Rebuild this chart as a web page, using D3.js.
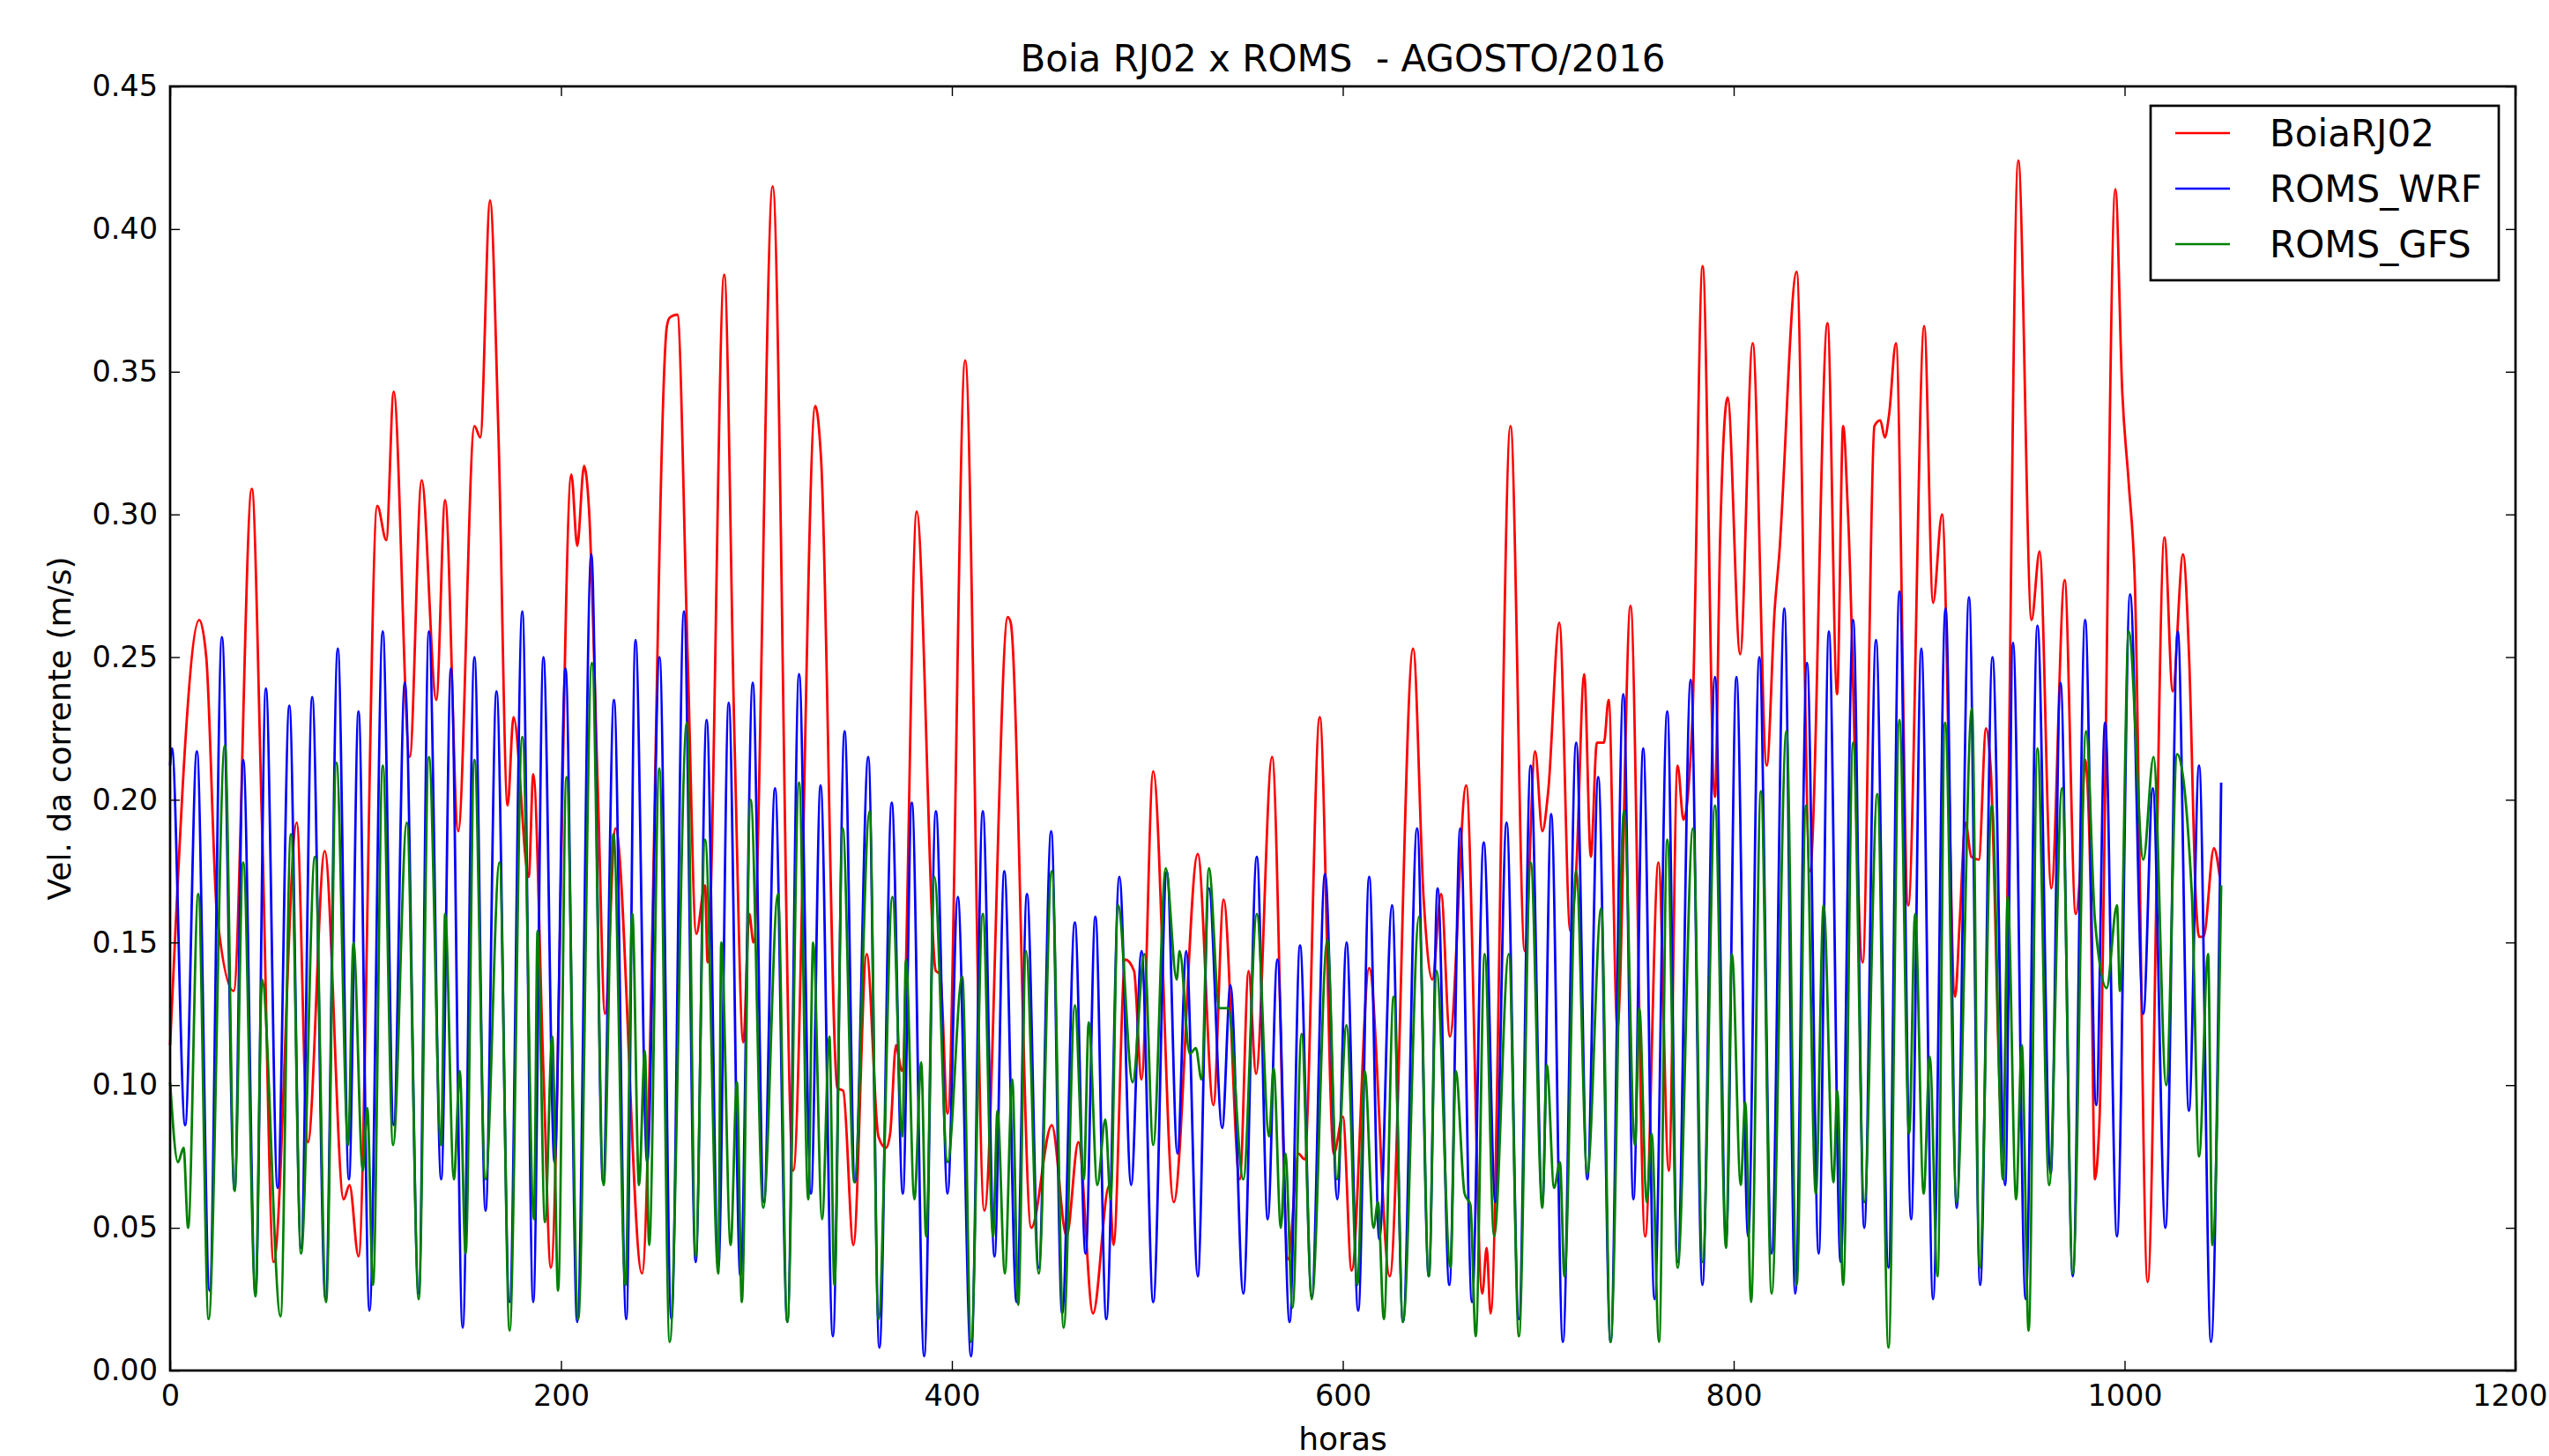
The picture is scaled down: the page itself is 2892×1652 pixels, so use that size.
<!DOCTYPE html>
<html>
<head>
<meta charset="utf-8">
<script src="https://cdn.jsdelivr.net/npm/d3@7"></script>
<style>
  body { margin: 0; background: #fff; }
  svg { display: block; font-family: "DejaVu Sans", sans-serif; }
  .tick text { fill: #000; }
</style>
</head>
<body>
<svg width="2892" height="1652"></svg>
<script>
// valores: [hora, velocidade m/s]
const boia = [[0,0.114],[14.9,0.263],[18.5,0.25],[24,0.16],[32.5,0.133],[41.8,0.309],[47,0.192],[53,0.038],[64.8,0.192],[70.5,0.08],[79.1,0.182],[88.8,0.06],[91.8,0.065],[96.4,0.04],[106,0.303],[110.6,0.291],[114.4,0.343],[122.6,0.215],[128.7,0.312],[136.2,0.235],[140.7,0.305],[147.4,0.189],[155.7,0.331],[158.7,0.327],[163.7,0.41],[168,0.328],[172.7,0.198],[175.7,0.229],[183.5,0.173],[185.8,0.209],[191,0.105],[194.8,0.036],[205.3,0.314],[208.3,0.289],[211.8,0.317],[214.3,0.302],[219,0.2],[222.5,0.125],[227.9,0.19],[241.4,0.034],[254.2,0.366],[255.7,0.369],[259.5,0.37],[264.8,0.25],[269.2,0.153],[273.7,0.17],[275,0.143],[283.5,0.384],[288.8,0.22],[293.3,0.115],[296.3,0.16],[298.5,0.15],[308.3,0.415],[318.8,0.07],[330.1,0.338],[333.1,0.319],[341.4,0.099],[344.4,0.098],[349.6,0.044],[356.4,0.146],[362.4,0.082],[366.2,0.078],[368.4,0.083],[371.4,0.114],[374.4,0.105],[382,0.301],[391.8,0.14],[394,0.139],[397.8,0.09],[406.8,0.354],[416.6,0.056],[428.6,0.264],[430.1,0.262],[440.6,0.05],[451.1,0.086],[458.7,0.047],[464.7,0.08],[472.2,0.02],[480.5,0.065],[482.7,0.044],[488.7,0.144],[493.2,0.14],[497,0.102],[503,0.21],[513.5,0.059],[525.8,0.181],[533.8,0.093],[539,0.165],[547.3,0.067],[551.8,0.14],[555.6,0.104],[563.8,0.215],[572.1,0.039],[577.3,0.076],[580.4,0.074],[588.2,0.229],[595.4,0.076],[600,0.089],[604.5,0.035],[613.5,0.141],[624,0.033],[636,0.253],[641.3,0.166],[645.8,0.137],[650.3,0.167],[654.8,0.117],[663.1,0.205],[671.4,0.027],[673.6,0.043],[675.6,0.02],[685.8,0.331],[693.1,0.147],[698.4,0.217],[702.1,0.189],[705.1,0.203],[710.8,0.262],[716.4,0.154],[719.4,0.175],[723.5,0.244],[726.9,0.18],[730,0.22],[733.6,0.22],[736,0.235],[740.5,0.12],[747.2,0.268],[754.7,0.047],[761.5,0.178],[766.8,0.07],[771.3,0.212],[774.3,0.193],[778.8,0.227],[784.1,0.387],[790.4,0.201],[793.1,0.293],[796.9,0.341],[803.3,0.251],[809.7,0.36],[816.9,0.212],[821,0.267],[823.2,0.285],[832.2,0.385],[839,0.175],[848,0.367],[852.9,0.237],[856,0.331],[858.5,0.3],[866,0.143],[872,0.331],[875,0.333],[877.3,0.327],[879.5,0.335],[883,0.36],[889.3,0.163],[897.5,0.366],[902,0.269],[906.6,0.3],[913.3,0.131],[915.6,0.157],[918.6,0.192],[921.6,0.18],[925.4,0.179],[929.1,0.225],[931.4,0.212],[937.4,0.085],[945.6,0.424],[952.4,0.263],[956.5,0.287],[962.5,0.169],[969.3,0.277],[975,0.16],[977.3,0.175],[979.8,0.214],[982.5,0.172],[984.8,0.067],[987,0.085],[995.3,0.414],[998.8,0.343],[1002.1,0.311],[1005.1,0.279],[1011.8,0.031],[1020.4,0.292],[1024.6,0.238],[1029.9,0.286],[1033,0.25],[1036.6,0.163],[1038.1,0.152],[1040.4,0.152],[1045.7,0.183],[1048.7,0.173]];

const romsWrf = [[0,0.212],[0.9,0.218],[7.7,0.086],[13.7,0.217],[20.2,0.028],[26.5,0.257],[33,0.063],[37.4,0.214],[43.7,0.027],[49,0.239],[55,0.064],[61,0.233],[67,0.043],[72.7,0.236],[79.5,0.025],[85.8,0.253],[91.5,0.067],[96.4,0.231],[102,0.021],[108.8,0.259],[114.4,0.086],[120.1,0.241],[127.2,0.027],[132.4,0.259],[138.7,0.067],[143.7,0.246],[149.7,0.015],[155.7,0.25],[161.4,0.056],[167,0.238],[173.7,0.024],[180.2,0.266],[185.8,0.024],[191,0.25],[196.7,0.073],[202.3,0.246],[208.3,0.017],[215.5,0.286],[221.5,0.066],[227.1,0.235],[233.4,0.018],[238.1,0.256],[244.1,0.073],[250.4,0.25],[256.5,0.018],[262.9,0.266],[268.9,0.038],[274.5,0.228],[280.5,0.036],[285.8,0.234],[291.8,0.033],[298.1,0.241],[303.8,0.059],[309.5,0.204],[315.8,0.017],[321.8,0.244],[327.9,0.062],[332.8,0.205],[339.1,0.012],[345.1,0.224],[350.4,0.066],[357.2,0.215],[362.9,0.008],[369.2,0.199],[374.9,0.062],[379.5,0.199],[385.8,0.005],[391.8,0.196],[397.8,0.062],[403,0.166],[409.8,0.005],[415.8,0.196],[421.8,0.04],[426.8,0.175],[433.1,0.024],[438.4,0.167],[444.4,0.036],[450.8,0.189],[456.4,0.02],[462.9,0.157],[468.4,0.041],[473.4,0.159],[479,0.018],[485.7,0.173],[491.7,0.065],[497,0.147],[503,0.024],[510,0.175],[515.4,0.076],[519.9,0.147],[525.8,0.033],[531.5,0.169],[538.3,0.085],[542.5,0.135],[549.1,0.027],[556,0.18],[561.6,0.053],[566.5,0.144],[572.8,0.017],[578.1,0.149],[584.1,0.026],[590.9,0.174],[597.2,0.06],[601.9,0.15],[607.9,0.021],[613.5,0.173],[618.7,0.046],[625.2,0.163],[630.8,0.017],[638,0.19],[644,0.033],[648.5,0.169],[654.5,0.03],[660.1,0.19],[666.1,0.024],[672.1,0.185],[678.1,0.059],[683.8,0.192],[690.1,0.018],[696.1,0.212],[702.1,0.059],[706.6,0.195],[712.6,0.01],[719.4,0.22],[725.1,0.067],[730.7,0.208],[737,0.01],[743.5,0.237],[748.7,0.06],[753.7,0.218],[759.5,0.025],[766,0.231],[771.3,0.038],[778,0.242],[784,0.03],[790.4,0.243],[796.1,0.046],[801.4,0.243],[807.4,0.047],[813.1,0.25],[819.4,0.041],[825.9,0.267],[831.5,0.027],[837.5,0.248],[843.5,0.041],[848.7,0.259],[854.7,0.038],[861.1,0.263],[866.8,0.05],[872.8,0.256],[879.2,0.036],[884.8,0.273],[890.8,0.053],[896,0.253],[902,0.025],[908.4,0.267],[914.1,0.057],[920.4,0.271],[926.1,0.03],[932.4,0.25],[938.9,0.065],[942.9,0.255],[949.4,0.025],[955.4,0.261],[962.2,0.069],[967.2,0.241],[973.5,0.033],[979.8,0.263],[985.5,0.093],[990,0.227],[996.1,0.047],[1002.8,0.272],[1009.6,0.125],[1014.4,0.204],[1020.9,0.05],[1027.2,0.259],[1032.9,0.091],[1038.1,0.212],[1044.2,0.01],[1049.4,0.206]];

const romsGfs = [[0,0.101],[4,0.073],[6.9,0.078],[9.2,0.05],[14.4,0.167],[19.7,0.018],[28,0.219],[33,0.063],[37.4,0.178],[43.7,0.026],[47,0.137],[56.5,0.019],[61.8,0.188],[67,0.041],[74.1,0.18],[79.8,0.024],[85.1,0.213],[91.1,0.079],[93.8,0.15],[98.6,0.07],[100.9,0.092],[103.8,0.03],[108.8,0.212],[114.1,0.079],[121.1,0.192],[127.2,0.025],[132.4,0.215],[138.7,0.079],[140.7,0.16],[145.2,0.067],[148.2,0.105],[151.2,0.041],[155.7,0.214],[161.4,0.067],[168.5,0.178],[173.7,0.014],[180.2,0.222],[186.2,0.053],[188,0.154],[191.8,0.052],[195.5,0.117],[198.5,0.028],[202.8,0.208],[208.8,0.018],[215.8,0.248],[221.8,0.065],[226.8,0.188],[233,0.03],[236.5,0.16],[239.9,0.065],[242.9,0.112],[245.1,0.044],[250.3,0.211],[255.6,0.01],[264.4,0.227],[268.9,0.04],[273.7,0.186],[280.5,0.034],[282,0.15],[286.8,0.044],[290,0.101],[292.5,0.024],[297,0.2],[303.5,0.057],[311,0.167],[315.8,0.017],[321.8,0.206],[326.5,0.06],[329,0.15],[333.6,0.053],[337.3,0.117],[339.9,0.03],[344.1,0.19],[350.1,0.066],[357.9,0.196],[362.4,0.018],[369.6,0.166],[374.7,0.082],[376.5,0.144],[380.8,0.06],[384.3,0.108],[386.8,0.047],[391,0.173],[397.8,0.073],[405.3,0.138],[409.8,0.01],[415.8,0.16],[421.1,0.047],[423.3,0.091],[427.1,0.034],[430.9,0.102],[433.9,0.023],[437.9,0.147],[444.4,0.034],[451.1,0.175],[457.2,0.015],[462.9,0.128],[467.5,0.067],[470,0.122],[474.4,0.065],[478.5,0.088],[481.2,0.06],[485,0.163],[492.5,0.101],[498.5,0.146],[503,0.079],[509.4,0.176],[515,0.137],[516.5,0.147],[521.7,0.111],[524.8,0.113],[527.7,0.102],[531.5,0.176],[536.8,0.127],[541.3,0.127],[549.1,0.067],[556,0.16],[562.3,0.082],[564.6,0.106],[568.3,0.05],[570.6,0.076],[574.3,0.022],[578.9,0.118],[584.1,0.025],[592.1,0.151],[597,0.067],[601.9,0.121],[607.5,0.03],[611.2,0.105],[615.7,0.05],[618,0.059],[621,0.018],[626,0.131],[630.8,0.017],[639,0.159],[644,0.033],[648,0.14],[655.1,0.036],[657.8,0.105],[662.3,0.062],[665.3,0.058],[668,0.012],[672.6,0.146],[677.4,0.047],[684.9,0.146],[690.1,0.012],[696.1,0.178],[702.1,0.057],[704.4,0.107],[708.1,0.064],[711.1,0.073],[713.4,0.033],[719.4,0.175],[725.1,0.069],[732.2,0.162],[737,0.01],[743.9,0.196],[749.5,0.079],[751.7,0.127],[755.5,0.059],[758,0.083],[761.8,0.01],[766,0.186],[771.3,0.036],[779.2,0.19],[784.1,0.038],[790.4,0.198],[796.1,0.043],[799.1,0.146],[803.6,0.065],[805.9,0.094],[808.9,0.024],[813.9,0.203],[819.4,0.027],[827,0.224],[832.2,0.03],[837,0.198],[842,0.062],[846,0.163],[851,0.066],[853,0.098],[856,0.03],[861.1,0.22],[866.8,0.059],[873.5,0.202],[879.2,0.008],[884.8,0.228],[889.8,0.083],[892.8,0.16],[897.2,0.062],[900.3,0.11],[904.3,0.033],[908.1,0.227],[914.1,0.059],[921.9,0.232],[925.8,0.036],[932.1,0.198],[937.8,0.067],[940.2,0.166],[944.5,0.06],[947.4,0.114],[950.9,0.014],[955.4,0.218],[961.4,0.065],[968,0.204],[973.5,0.034],[980.3,0.224],[984.8,0.158],[990.8,0.134],[996.1,0.163],[997.6,0.133],[1002.1,0.259],[1009.6,0.179],[1014.8,0.215],[1021.3,0.1],[1026.9,0.216],[1034.4,0.167],[1038.1,0.075],[1042.7,0.146],[1044.9,0.044],[1049.4,0.17]];

const seriesNames = ['BoiaRJ02', 'ROMS_WRF', 'ROMS_GFS'];
const seriesColors = ['#ff0000', '#0000ff', '#008000'];
const xTicks = [0, 200, 400, 600, 800, 1000, 1200];
const yTicks = [0, 0.05, 0.1, 0.15, 0.2, 0.25, 0.3, 0.35, 0.4, 0.45];

const marginLeft = 193, marginTop = 98;
const width = 2854 - marginLeft;
const height = 1555 - marginTop;
const tickLen = 11;

const svg = d3.select('svg');

const chart = svg.append('g')
    .attr('transform', `translate(${marginLeft}, ${marginTop})`);

const xScale = d3.scaleLinear()
    .domain([0, 1200])
    .range([0, width]);

const yScale = d3.scaleLinear()
    .domain([0, 0.45])
    .range([height, 0]);

const line = d3.line()
    .x((d) => xScale(d[0]))
    .y((d) => yScale(d[1]))
    .curve(d3.curveMonotoneX);

[boia, romsWrf, romsGfs].forEach((serie, i) => {
    chart.append('path')
        .datum(serie)
        .attr('fill', 'none')
        .attr('stroke', seriesColors[i])
        .attr('stroke-width', 2.8)
        .attr('stroke-linejoin', 'round')
        .attr('d', line);
});

// eixos (ticks para dentro, nos quatro lados)
const xAxis = chart.append('g')
    .attr('transform', `translate(0, ${height})`)
    .call(d3.axisBottom(xScale).tickValues(xTicks).tickSize(-tickLen).tickPadding(16).tickFormat(d3.format('d')));

chart.append('g')
    .call(d3.axisTop(xScale).tickValues(xTicks).tickSize(-tickLen).tickFormat(''));

chart.append('g')
    .call(d3.axisLeft(yScale).tickValues(yTicks).tickSize(-tickLen).tickPadding(14).tickFormat(d3.format('.2f')));

chart.append('g')
    .attr('transform', `translate(${width}, 0)`)
    .call(d3.axisRight(yScale).tickValues(yTicks).tickSize(-tickLen).tickFormat(''));

chart.selectAll('.domain').remove();
chart.selectAll('.tick line').attr('stroke', '#000').attr('stroke-width', 1.4);
chart.selectAll('.tick text').attr('font-size', 33.5).attr('font-family', '"DejaVu Sans", sans-serif');

// o ultimo rotulo (1200) encosta na borda da figura
xAxis.selectAll('.tick text')
    .filter((d) => d === 1200)
    .attr('text-anchor', 'end')
    .attr('x', 2890 - 2854);

chart.append('rect')
    .attr('width', width)
    .attr('height', height)
    .attr('fill', 'none')
    .attr('stroke', '#000')
    .attr('stroke-width', 2.7);

svg.append('text')
    .attr('x', marginLeft + width / 2)
    .attr('y', 81)
    .attr('text-anchor', 'middle')
    .attr('font-size', 42)
    .style('white-space', 'pre')
    .text('Boia RJ02 x ROMS  - AGOSTO/2016');

svg.append('text')
    .attr('x', marginLeft + width / 2)
    .attr('y', 1645)
    .attr('text-anchor', 'middle')
    .attr('font-size', 36)
    .text('horas');

svg.append('text')
    .attr('transform', `translate(80, ${marginTop + height / 2}) rotate(-90)`)
    .attr('text-anchor', 'middle')
    .attr('font-size', 36)
    .text('Vel. da corrente (m/s)');

// legenda
const legend = svg.append('g')
    .attr('transform', 'translate(2440, 120)');

legend.append('rect')
    .attr('width', 395)
    .attr('height', 198)
    .attr('fill', '#fff')
    .attr('stroke', '#000')
    .attr('stroke-width', 2.7);

const items = legend.selectAll('.item')
    .data(seriesNames)
    .enter()
    .append('g')
    .attr('transform', (d, i) => `translate(0, ${31 + i * 63})`);

items.append('line')
    .attr('x1', 28)
    .attr('x2', 90)
    .attr('stroke', (d, i) => seriesColors[i])
    .attr('stroke-width', 2.7);

items.append('text')
    .attr('x', 135)
    .attr('dy', '0.35em')
    .attr('font-size', 42)
    .text((d) => d);
</script>
</body>
</html>
